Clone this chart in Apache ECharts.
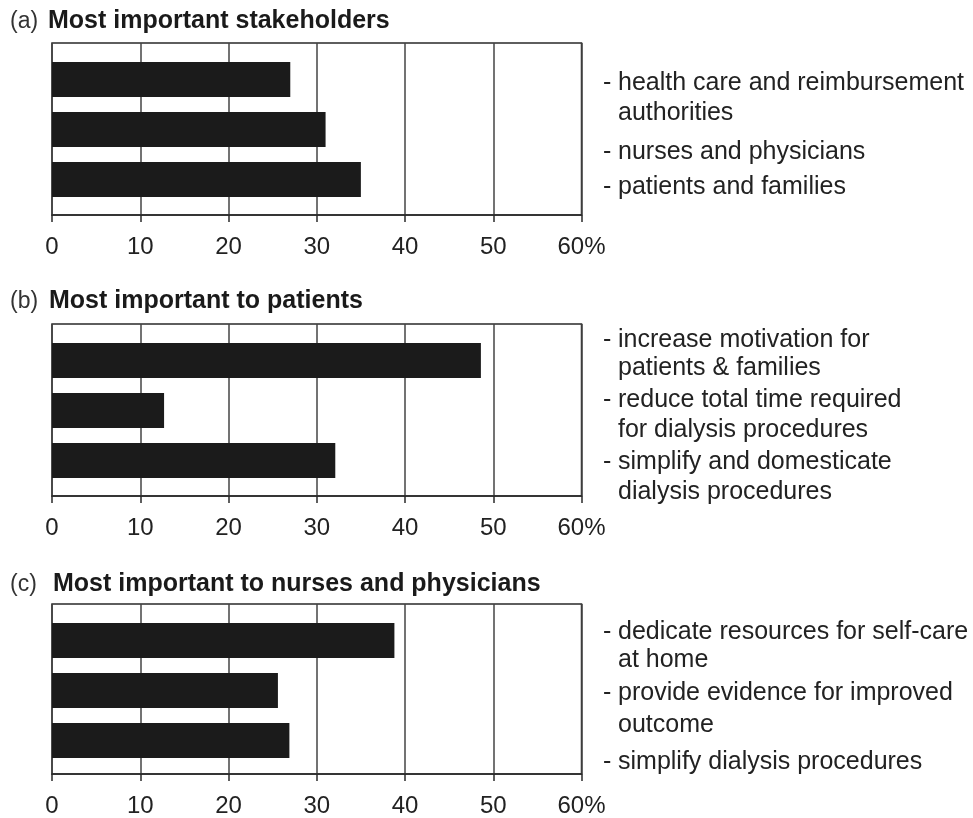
<!DOCTYPE html>
<html>
<head>
<meta charset="utf-8">
<title>Most important stakeholders / patients / nurses and physicians</title>
<script src="https://cdn.jsdelivr.net/npm/echarts@6/dist/echarts.min.js"></script>
<style>
  html, body { margin: 0; padding: 0; background: #fff; }
  #main { width: 973px; height: 818px; }
</style>
</head>
<body>
<div id="main"></div>
<script>
// data
var panelTags = ['(a)', '(b)', '(c)'];
var panelTitles = ['Most important stakeholders', 'Most important to patients', 'Most important to nurses and physicians'];

var categoriesA = ['health care and reimbursement authorities', 'nurses and physicians', 'patients and families'];
var valuesA = [27, 31, 35];

var categoriesB = ['increase motivation for patients & families', 'reduce total time required for dialysis procedures', 'simplify and domesticate dialysis procedures'];
var valuesB = [48.6, 12.7, 32.1];

var categoriesC = ['dedicate resources for self-care at home', 'provide evidence for improved outcome', 'simplify dialysis procedures'];
var valuesC = [38.8, 25.6, 26.9];

var tickLabels = ['0', '10', '20', '30', '40', '50', '60%'];

// wrapped text beside each panel, one list per bar
var linesA = [['health care and reimbursement', 'authorities'], ['nurses and physicians'], ['patients and families']];
var linesB = [['increase motivation for', 'patients & families'], ['reduce total time required', 'for dialysis procedures'], ['simplify and domesticate', 'dialysis procedures']];
var linesC = [['dedicate resources for self-care', 'at home'], ['provide evidence for improved', 'outcome'], ['simplify dialysis procedures']];

// layout
var FONT = '"Liberation Sans", Arial, Helvetica, sans-serif';
var frameTops = [43, 324, 604];
var frameH = 172;
var plotLeft = 52, plotW = 529.5;
var titleY = [22, 302, 585];
var titleX = [48, 49, 53];
var textY = [[[83, 113], [152], [187]],
             [[340, 368], [400, 430], [462, 492]],
             [[632, 660], [693, 725], [762]]];
var dashX = 603, textX = 618;

var cats = [categoriesA, categoriesB, categoriesC];
var vals = [valuesA, valuesB, valuesC];
var lines = [linesA, linesB, linesC];

var grids = [], xAxes = [], yAxes = [], series = [], graphics = [];

for (var i = 0; i < 3; i++) {
  // frame grid: border, gridlines, ticks and labels
  grids.push({left: plotLeft, top: frameTops[i], width: plotW, height: frameH,
    show: true, borderColor: '#2a2a2a', borderWidth: 1.5, backgroundColor: 'transparent'});
  xAxes.push({
    gridIndex: i, type: 'value', min: 0, max: 60, interval: 10,
    axisLine: {show: true, lineStyle: {color: '#2a2a2a', width: 1.5}},
    axisTick: {show: true, length: 7, lineStyle: {color: '#2a2a2a', width: 1.5}},
    axisLabel: {fontSize: 24, color: '#222', fontFamily: FONT, margin: 20,
      formatter: function (v) { return tickLabels[Math.round(v / 10)]; }},
    splitLine: {show: true, lineStyle: {color: '#444', width: 1.5}}
  });
  yAxes.push({gridIndex: i, type: 'value', show: false, min: 0, max: 1});
}

for (var i = 0; i < 3; i++) {
  // bar grid, inset inside the frame
  grids.push({left: plotLeft, top: frameTops[i] + 11.5, width: plotW, height: 150});
  xAxes.push({gridIndex: 3 + i, type: 'value', min: 0, max: 60, show: false});
  yAxes.push({gridIndex: 3 + i, type: 'category', data: cats[i], inverse: true, show: false});
  series.push({
    type: 'bar', xAxisIndex: 3 + i, yAxisIndex: 3 + i,
    data: vals[i], barWidth: 35,
    itemStyle: {color: '#1b1b1b'}
  });

  graphics.push({type: 'text', left: 10, top: titleY[i] - 12,
    style: {text: panelTags[i], font: '23px ' + FONT, fill: '#333'}});
  graphics.push({type: 'text', left: titleX[i], top: titleY[i] - 13,
    style: {text: panelTitles[i], font: 'bold 25px ' + FONT, fill: '#1a1a1a'}});

  for (var j = 0; j < lines[i].length; j++) {
    for (var k = 0; k < lines[i][j].length; k++) {
      var y = textY[i][j][k];
      if (k === 0) {
        graphics.push({type: 'text', x: dashX, y: y,
          style: {text: '-', font: '25px ' + FONT, fill: '#222', verticalAlign: 'middle'}});
      }
      graphics.push({type: 'text', x: textX, y: y,
        style: {text: lines[i][j][k], font: '25px ' + FONT, fill: '#222', verticalAlign: 'middle'}});
    }
  }
}

var myChart = echarts.init(document.getElementById('main'));
myChart.setOption({
  animation: false,
  grid: grids,
  xAxis: xAxes,
  yAxis: yAxes,
  series: series,
  graphic: graphics
});
</script>
</body>
</html>
